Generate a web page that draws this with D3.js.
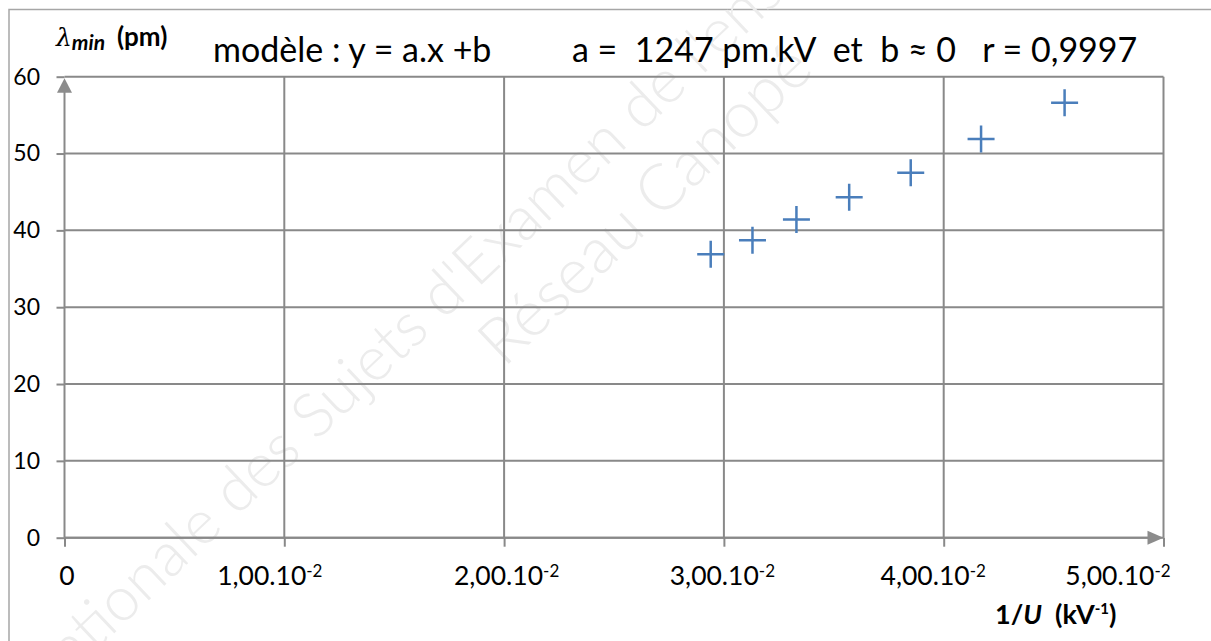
<!DOCTYPE html>
<html>
<head>
<meta charset="utf-8">
<script src="https://cdn.jsdelivr.net/npm/d3@7"></script>
<style>
  body { margin: 0; background: #fff; }
  text { font-family: Lato, "Open Sans", sans-serif; fill: #000; }
  .grid line { stroke: #898989; stroke-width: 2; }
  .axis path { display: none; }
  .axis line { stroke: #898989; stroke-width: 2; }
  .axis text { font-family: Lato, sans-serif; fill: #000; }
  .mark { stroke: #4a7ebb; stroke-width: 2.5; fill: none; }
  .wm { fill: #ececec; font-family: Lato, sans-serif; font-weight: 300; }
</style>
</head>
<body>
<div id="chart"></div>
<script>
var invU = [0.0294, 0.0313, 0.0333, 0.0357, 0.0385, 0.0417, 0.0455];
var lambdaMin = [36.9, 38.7, 41.4, 44.3, 47.5, 51.9, 56.6];

var yTicks = [0, 10, 20, 30, 40, 50, 60];
var xTicks = [0, 0.01, 0.02, 0.03, 0.04, 0.05];
var xTickMantissa = ["0", "1,00.10", "2,00.10", "3,00.10", "4,00.10", "5,00.10"];
var xTickExponent = ["", "-2", "-2", "-2", "-2", "-2"];

var titleModel = "modèle : y = a.x +b";
var titleFit = "a =  1247 pm.kV  et  b \u2248 0   r = 0,9997";

var wmLine1 = "Banque Nationale des Sujets d'Examen de l'enseignement professionnel";
var wmLine2 = "Réseau Canopé";

// the x labels are text boxes, not exactly centred on their ticks
var xLabelShift = [2, -15, 2, -2, -11, -46];

var W = 1211, H = 641;
var margin = { top: 76.7, right: 47.5, bottom: 103.3, left: 64.5 },
    width = W - margin.left - margin.right,
    height = H - margin.top - margin.bottom;

var x = d3.scaleLinear().domain([0, 0.05]).range([0, width]);
var y = d3.scaleLinear().domain([0, 60]).range([height, 0]);

var root = d3.select("#chart").append("svg")
    .attr("width", W)
    .attr("height", H);

// outer frame (runs off the right and bottom edges)
root.append("rect")
    .attr("x", 9).attr("y", 9.5)
    .attr("width", 1400).attr("height", 800)
    .style("fill", "none")
    .style("stroke", "#a6a6a6")
    .style("stroke-width", 1.5);

// watermark, laid out along a tilted baseline
var wm = root.append("g").attr("transform", "rotate(-43.5)");
var wm1 = wm.append("text")
    .attr("class", "wm")
    .style("font-size", "60px")
    .text(wmLine1);
var k = wmLine1.indexOf("des ");
var seg = wm1.node().getSubStringLength(k, 11);
wm1.style("font-size", (60 * 285 / seg) + "px");
var pre = wm1.node().getSubStringLength(0, k);
wm1.attr("x", -184 - pre).attr("y", 538);

wm.append("text")
    .attr("class", "wm")
    .style("font-size", "64px")
    .attr("x", 112).attr("y", 614)
    .attr("textLength", 430)
    .attr("lengthAdjust", "spacingAndGlyphs")
    .text(wmLine2);

var svg = root.append("g")
    .attr("transform", "translate(" + margin.left + "," + margin.top + ")");

// grid
svg.append("g").attr("class", "grid")
  .selectAll("line").data(yTicks).enter().append("line")
    .attr("x1", 0).attr("x2", width)
    .attr("y1", function(d) { return y(d); })
    .attr("y2", function(d) { return y(d); });

svg.append("g").attr("class", "grid")
  .selectAll("line").data(xTicks.slice(1)).enter().append("line")
    .attr("x1", function(d) { return x(d); })
    .attr("x2", function(d) { return x(d); })
    .attr("y1", 0).attr("y2", height);

// axes
var yAxis = d3.axisLeft(y).tickValues(yTicks).tickSize(8).tickPadding(16.5);
svg.append("g")
    .attr("class", "axis y")
    .call(yAxis)
    .selectAll("text")
    .style("font-size", "23px");

var xAxis = d3.axisBottom(x).tickValues(xTicks).tickSize(9).tickPadding(19)
    .tickFormat(function(d, i) { return xTickMantissa[i]; });
var gx = svg.append("g")
    .attr("class", "axis x")
    .attr("transform", "translate(0," + height + ")")
    .call(xAxis);
gx.selectAll("text")
    .style("font-size", "26.5px")
    .attr("dx", function(d, i) { return xLabelShift[i]; })
    .each(function(d, i) {
      if (xTickExponent[i]) {
        d3.select(this).append("tspan")
          .attr("dy", "-0.45em")
          .style("font-size", "17px")
          .text(xTickExponent[i]);
      }
    });

// axis lines with arrows
svg.append("line")
    .attr("x1", x(0)).attr("x2", x(0))
    .attr("y1", y(0)).attr("y2", y(60) + 10)
    .style("stroke", "#898989").style("stroke-width", 2);
svg.append("line")
    .attr("x1", x(0)).attr("x2", x(0.05) - 10)
    .attr("y1", y(0)).attr("y2", y(0))
    .style("stroke", "#898989").style("stroke-width", 2);

svg.append("path")
    .attr("d", "M" + x(0) + "," + (y(60) + 1.5) +
               "L" + (x(0) + 7.5) + "," + (y(60) + 16) +
               "L" + (x(0) - 7.5) + "," + (y(60) + 16) + "Z")
    .style("fill", "#8c8c8c");
svg.append("path")
    .attr("d", "M" + x(0.05) + "," + y(0) +
               "L" + (x(0.05) - 16) + "," + (y(0) - 7) +
               "L" + (x(0.05) - 16) + "," + (y(0) + 7) + "Z")
    .style("fill", "#8c8c8c");

// points (plus markers)
var pts = invU.map(function(v, i) { return { u: v, l: lambdaMin[i] }; });
svg.selectAll(".mark")
    .data(pts)
    .enter().append("path")
    .attr("class", "mark")
    .attr("d", function(d) {
      var cx = x(d.u), cy = y(d.l), s = 13.5;
      return "M" + (cx - s) + "," + cy + "H" + (cx + s) +
             "M" + cx + "," + (cy - s) + "V" + (cy + s);
    });

// y axis title
var yt = root.append("text")
    .attr("x", 56).attr("y", 46);
yt.append("tspan")
    .style("font-family", "'DejaVu Serif', serif")
    .style("font-style", "italic")
    .style("font-size", "25px")
    .text("\u03bb");
yt.append("tspan")
    .attr("dy", 4)
    .style("font-style", "italic")
    .style("font-weight", "bold")
    .style("font-size", "21px")
    .text("min");
yt.append("tspan")
    .attr("dy", -4)
    .attr("dx", 12)
    .style("font-weight", "bold")
    .style("font-size", "26px")
    .text("(pm)");

// model text
root.append("text")
    .attr("x", 213).attr("y", 62)
    .style("font-size", "34px")
    .style("white-space", "pre")
    .text(titleModel);
root.append("text")
    .attr("x", 572).attr("y", 62)
    .style("font-size", "34px")
    .style("white-space", "pre")
    .text(titleFit);

// x axis title
var xt = root.append("text")
    .attr("x", 995).attr("y", 624)
    .style("font-weight", "bold")
    .style("font-size", "27px")
    .style("white-space", "pre");
xt.append("tspan").text("1/");
xt.append("tspan").style("font-style", "italic").text("U");
xt.append("tspan").text("  (kV");
xt.append("tspan").attr("dy", -10).style("font-size", "15px").text("-1");
xt.append("tspan").attr("dy", 10).text(")");
</script>
</body>
</html>
